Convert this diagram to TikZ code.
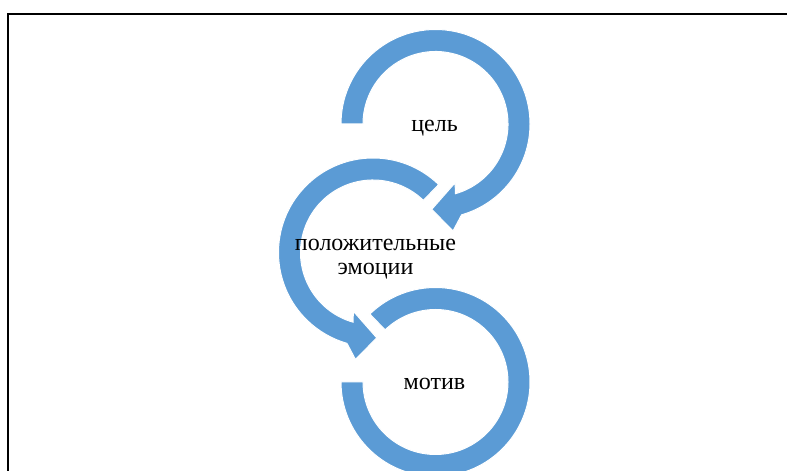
\documentclass[tikz,border=0pt]{standalone}
\usepackage{fontspec}
\setmainfont{Liberation Serif}
\definecolor{ringblue}{HTML}{5B9BD5}
\begin{document}
\begin{tikzpicture}[x=1pt,y=1pt]
\tikzset{
  ring/.style={fill=ringblue, draw=white, line width=1pt, line join=miter},
  lbl/.style={font=\fontsize{24}{24.3}\selectfont, text=black, inner sep=0pt},
  frame/.style={draw=black, line width=2pt}
}
\useasboundingbox (0,0) rectangle (787,471);
% page frame
\draw[frame] (8.3,-2) -- (8.3,457.3) -- (790,457.3);
% centres
\coordinate (T) at (435.5,347);
\coordinate (M) at (373,218.5);
\coordinate (B) at (435.5,89);
% bottom ring (no arrowhead)
\path[ring] ([shift={(134:94.5)}]B) arc[start angle=134,end angle=-180,radius=94.5]
  -- ([shift={(-180:72.5)}]B) arc[start angle=-180,end angle=134,radius=72.5] -- cycle;
% middle ring with arrowhead
\path[ring] ([shift={(46:94.5)}]M) arc[start angle=46,end angle=254,radius=94.5]
  -- ([shift={(260.7:108.4)}]M) -- ([shift={(272.5:85.4)}]M) -- ([shift={(251.6:62)}]M)
  -- ([shift={(254:72.5)}]M) arc[start angle=254,end angle=46,radius=72.5] -- cycle;
% top ring with arrowhead
\path[ring] ([shift={(180:94.5)}]T) arc[start angle=180,end angle=-74,radius=94.5]
  -- ([shift={(-80.7:108.4)}]T) -- ([shift={(-92.5:85.4)}]T) -- ([shift={(-71.6:62)}]T)
  -- ([shift={(-74:72.5)}]T) arc[start angle=-74,end angle=180,radius=72.5] -- cycle;
% labels
\node[lbl, anchor=base] (goal) at (434.5,339.5) {цель};
\node[lbl, anchor=base, align=center] (emo) at (375.5,196) {положительные\\эмоции};
\node[lbl, anchor=base] (motiv) at (434.5,81) {мотив};
\end{tikzpicture}
\end{document}
